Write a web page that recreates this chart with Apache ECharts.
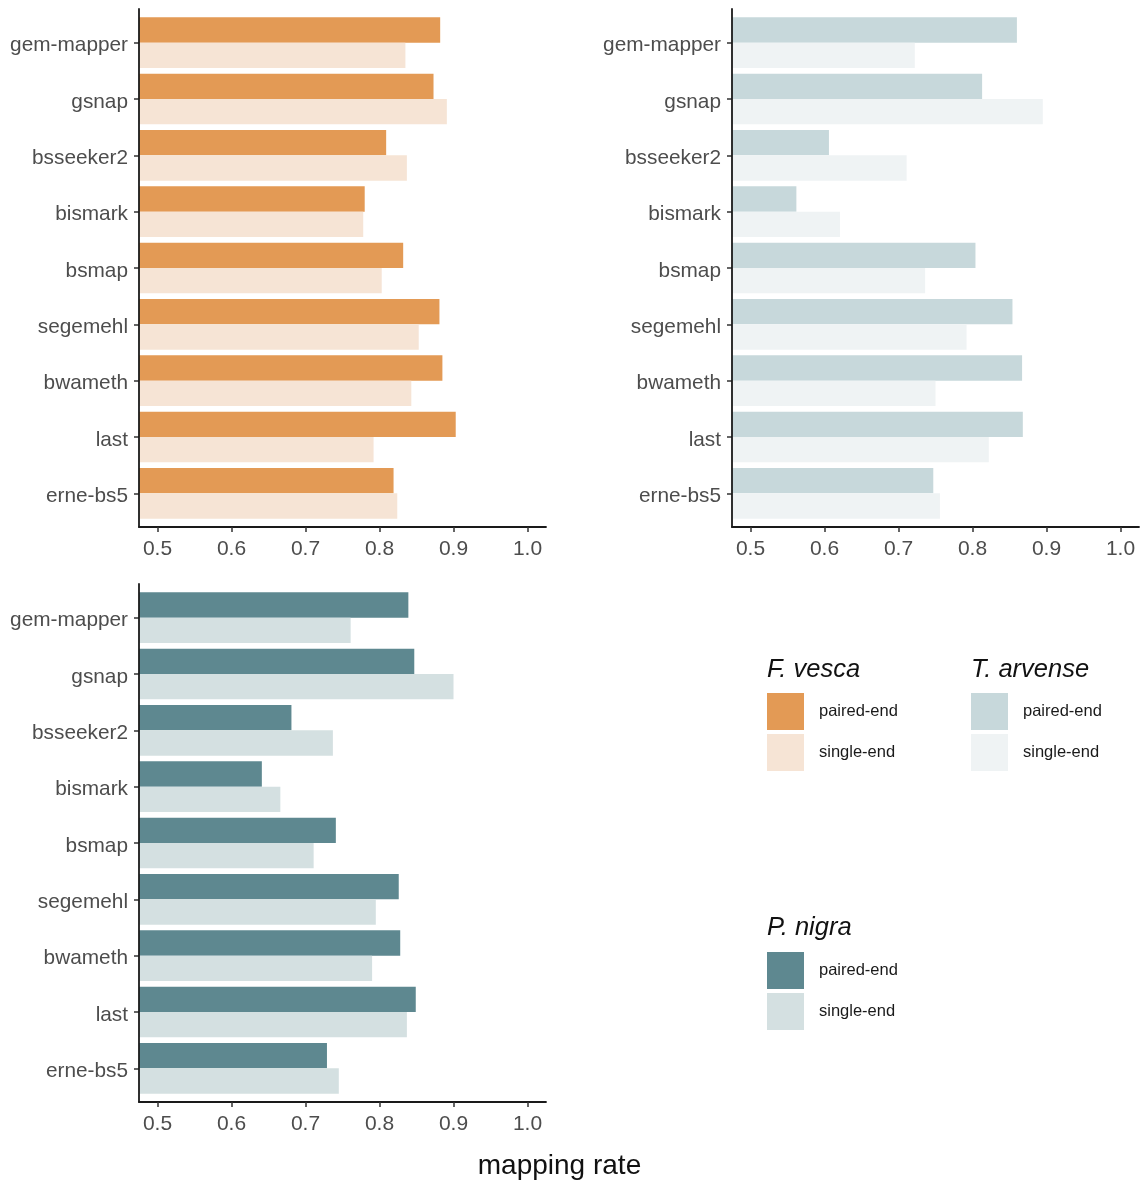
<!DOCTYPE html>
<html>
<head>
<meta charset="utf-8">
<script src="https://cdn.jsdelivr.net/npm/echarts@6/dist/echarts.min.js"></script>
<style>
  html, body { margin: 0; padding: 0; background: #fff; }
  #chart { width: 1144px; height: 1180px; }
</style>
</head>
<body>
<div id="chart"></div>
<script>
// mappers, top to bottom
const mappers = ['gem-mapper', 'gsnap', 'bsseeker2', 'bismark', 'bsmap', 'segemehl', 'bwameth', 'last', 'erne-bs5']

// mapping rate per mapper
const vescaPaired = [0.882, 0.873, 0.809, 0.780, 0.832, 0.881, 0.885, 0.903, 0.819]
const vescaSingle = [0.835, 0.891, 0.837, 0.778, 0.803, 0.853, 0.843, 0.792, 0.824]
const arvensePaired = [0.860, 0.813, 0.606, 0.562, 0.804, 0.854, 0.867, 0.868, 0.747]
const arvenseSingle = [0.722, 0.895, 0.711, 0.621, 0.736, 0.792, 0.750, 0.822, 0.756]
const nigraPaired = [0.839, 0.847, 0.681, 0.641, 0.741, 0.826, 0.828, 0.849, 0.729]
const nigraSingle = [0.761, 0.900, 0.737, 0.666, 0.711, 0.795, 0.790, 0.837, 0.745]

const xTicks = [0.5, 0.6, 0.7, 0.8, 0.9, 1.0]
const libTypes = ['paired-end', 'single-end']

const X_MIN = 0.475
const X_MAX = 1.025

// one entry per facet
const panels = [
  { species: 'F. vesca', paired: vescaPaired, single: vescaSingle, colors: ['#e39a55', '#f6e4d5'], left: 139, frameTop: 9, barTop: 14.5, legendLeft: 767, legendTop: 693, titleTop: 657 },
  { species: 'T. arvense', paired: arvensePaired, single: arvenseSingle, colors: ['#c7d8db', '#eff3f4'], left: 732, frameTop: 9, barTop: 14.5, legendLeft: 971, legendTop: 693, titleTop: 657 },
  { species: 'P. nigra', paired: nigraPaired, single: nigraSingle, colors: ['#5e8890', '#d4e0e1'], left: 139, frameTop: 584, barTop: 589.5, legendLeft: 767, legendTop: 952, titleTop: 915 }
]

const grid = []
const xAxis = []
const yAxis = []
const series = []
const legend = []
const title = []

panels.forEach((p, i) => {
  // grid for bars (category band without the extra padding)
  grid.push({ left: p.left, top: p.barTop, width: 407, height: 507 })
  // grid for axis frame (ggplot-style padded extent)
  grid.push({ left: p.left, top: p.frameTop, width: 407, height: 518 })

  xAxis.push({
    gridIndex: 2 * i,
    type: 'value',
    min: X_MIN,
    max: X_MAX,
    show: false
  })
  xAxis.push({
    gridIndex: 2 * i + 1,
    type: 'value',
    min: X_MIN,
    max: X_MAX,
    z: 5,
    axisLine: { show: true, onZero: false, lineStyle: { color: '#1a1a1a', width: 1.8 } },
    axisTick: { show: true, customValues: xTicks, length: 5, lineStyle: { color: '#333', width: 1.5 } },
    axisLabel: {
      customValues: xTicks,
      formatter: v => v.toFixed(1),
      fontSize: 21,
      color: '#4d4d4d',
      margin: 12,
      fontFamily: 'Liberation Sans'
    },
    splitLine: { show: false }
  })

  yAxis.push({
    gridIndex: 2 * i,
    type: 'category',
    inverse: true,
    data: mappers,
    axisLine: { show: false },
    axisTick: { show: true, alignWithLabel: true, length: 5, lineStyle: { color: '#333', width: 1.5 } },
    axisLabel: {
      margin: 11,
      formatter: v => '{n|' + v + '}',
      rich: {
        n: { fontSize: 20.8, color: '#4d4d4d', padding: [6, 0, 0, 0], fontFamily: 'Liberation Sans' }
      }
    },
    splitLine: { show: false }
  })
  yAxis.push({
    gridIndex: 2 * i + 1,
    type: 'value',
    min: 0,
    max: 1,
    z: 5,
    axisLine: { show: true, onZero: false, lineStyle: { color: '#1a1a1a', width: 1.8 } },
    axisTick: { show: false },
    axisLabel: { show: false },
    splitLine: { show: false }
  })

  const vals = [p.paired, p.single]
  libTypes.forEach((t, k) => {
    series.push({
      name: p.species + '|' + t,
      type: 'bar',
      xAxisIndex: 2 * i,
      yAxisIndex: 2 * i,
      data: vals[k],
      barGap: '0%',
      barCategoryGap: '10%',
      itemStyle: { color: p.colors[k] },
      emphasis: { disabled: true }
    })
  })

  title.push({
    text: p.species,
    left: p.legendLeft,
    top: p.titleTop,
    padding: 0,
    textStyle: { fontSize: 25.5, fontStyle: 'italic', fontWeight: 'normal', color: '#111', fontFamily: 'Liberation Sans' }
  })

  legend.push({
    orient: 'vertical',
    left: p.legendLeft,
    top: p.legendTop,
    padding: 0,
    itemWidth: 37,
    itemHeight: 37,
    itemGap: 4,
    icon: 'rect',
    selectedMode: false,
    data: libTypes.map(t => p.species + '|' + t),
    formatter: name => name.split('|')[1],
    textStyle: { fontSize: 16.5, color: '#1a1a1a', padding: [2, 0, 0, 10], fontFamily: 'Liberation Sans' }
  })
})

const myChart = echarts.init(document.getElementById('chart'))
const option = {
  backgroundColor: '#fff',
  animation: false,
  title: title,
  legend: legend,
  grid: grid,
  xAxis: xAxis,
  yAxis: yAxis,
  series: series,
  graphic: [{
    type: 'text',
    x: 559.5,
    y: 1166,
    style: {
      text: 'mapping rate',
      fontSize: 28,
      fill: '#111',
      align: 'center',
      verticalAlign: 'middle',
      fontFamily: 'Liberation Sans'
    }
  }]
}
myChart.setOption(option)
</script>
</body>
</html>
